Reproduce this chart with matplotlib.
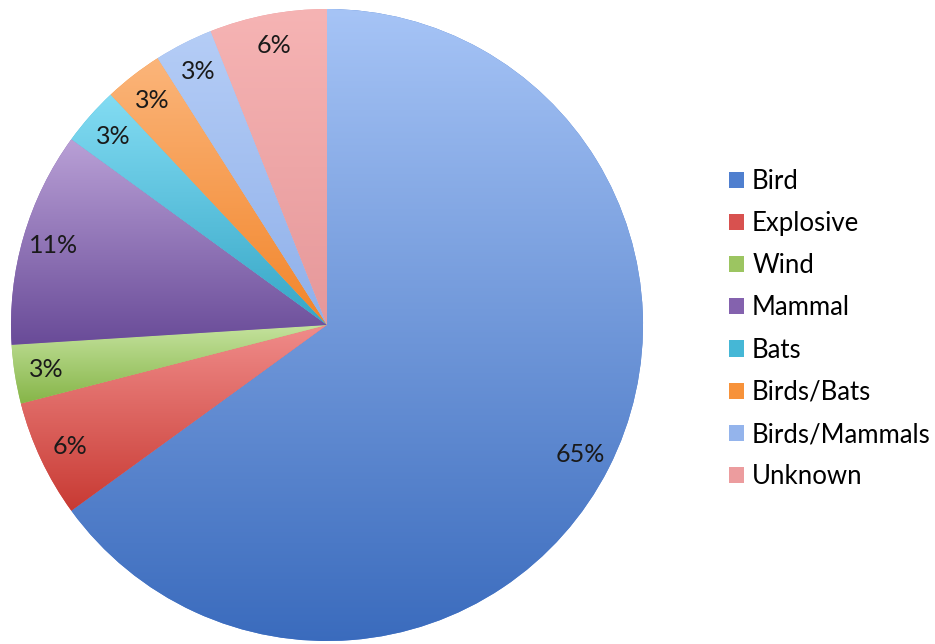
import numpy as np
import matplotlib.pyplot as plt
from matplotlib.patches import Patch
from matplotlib.colors import to_rgb

# === Data ===
labels = ['Bird', 'Explosive', 'Wind', 'Mammal', 'Bats', 'Birds/Bats', 'Birds/Mammals', 'Unknown']
shares = [65, 6, 3, 11, 3, 3, 3, 6]

# base (legend) colour, lighter top and darker bottom for the slice gradient
base_colors = ['#4f7fcf', '#d8514f', '#9cc561', '#8462ae', '#45b7d6', '#f7923a', '#94b4ec', '#ec9c9e']
top_colors = ['#a6c4f6', '#f08c8a', '#c4e29d', '#b9a0d6', '#83dcf3', '#fbb57a', '#b5cdf6', '#f6b4b4']
bot_colors = ['#3a6bbd', '#c83a33', '#86b548', '#694b98', '#35a6c6', '#f2852a', '#8fb0ea', '#e6989a']

plt.rcParams['font.family'] = ['Lato', 'DejaVu Sans']

fig = plt.figure(figsize=(9.35, 6.44), dpi=100)
fig.patch.set_facecolor('white')

R_px = 316
cx, cy = 327, 644 - 325
ax = fig.add_axes([(cx - R_px) / 935, (cy - R_px) / 644, 2 * R_px / 935, 2 * R_px / 644])

wedges, _, autotexts = ax.pie(shares, startangle=90, counterclock=False, radius=1.0,
                              colors=base_colors, pctdistance=0.9,
                              autopct=lambda p: f'{p:.0f}%',
                              wedgeprops=dict(linewidth=0),
                              textprops=dict(fontsize=18, color='#1a1a1a'))
ax.set_xlim(-1, 1)
ax.set_ylim(-1, 1)
ax.set_aspect('equal')
ax.axis('off')

# vertical gradient inside every slice
for w, ct, cb in zip(wedges, top_colors, bot_colors):
    verts = w.get_patch_transform().transform(w.get_path().vertices)
    ymin, ymax = verts[:, 1].min(), verts[:, 1].max()
    t = np.linspace(0, 1, 256)[:, None]
    grad = (1 - t) * np.array(to_rgb(ct)) + t * np.array(to_rgb(cb))
    img = ax.imshow(grad[:, None, :], extent=(-1, 1, ymin, ymax), aspect='auto',
                    origin='upper', zorder=2, interpolation='bilinear')
    img.set_clip_path(w)

for t in autotexts:
    t.set_zorder(5)

ax.set_xlim(-1, 1)
ax.set_ylim(-1, 1)

handles = [Patch(facecolor=c, edgecolor='none') for c in base_colors]
fig.legend(handles, labels, loc='center left', bbox_to_anchor=(729 / 935, 1 - 329 / 644),
           frameon=False, fontsize=18.5, handlelength=0.6, handleheight=0.6,
           handletextpad=0.3, labelspacing=0.67, borderpad=0, borderaxespad=0)

fig.savefig('out.png', dpi=100, facecolor='white')
